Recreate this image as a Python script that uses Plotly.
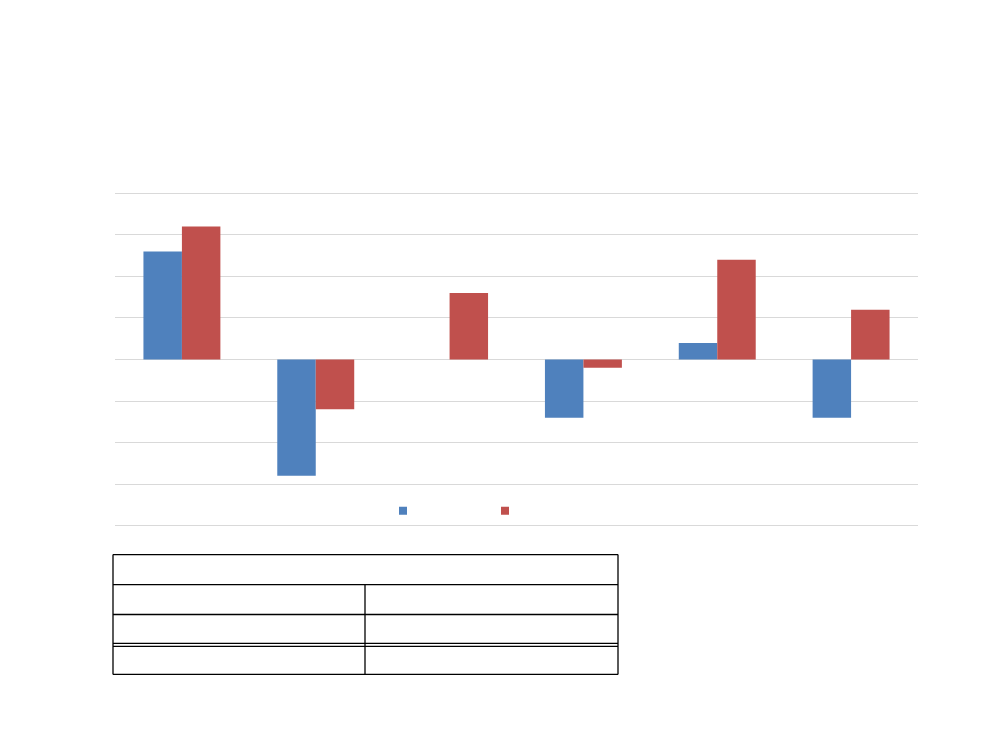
import plotly.graph_objects as go

# categories (labels are not shown in the picture)
categories = ["c1", "c2", "c3", "c4", "c5", "c6"]
series_a = [2.6, -2.8, 0.0, -1.4, 0.4, -1.4]
series_b = [3.2, -1.2, 1.6, -0.2, 2.4, 1.2]

BLUE = "#4F81BD"
RED = "#C0504D"

W, H = 1000, 750
OFF = 8  # page body margin added by write_html
YMAX = 4
PAD = 0.08  # keep edge gridlines from being clipped
unit = (526 - 193) / (2 * YMAX)
PL, PR = 115 - OFF, 918 - OFF
PT = 193 - OFF - PAD * unit
PB = 526 - OFF + PAD * unit


def px_x(px):
    return (px - OFF - PL) / (PR - PL)


def px_y(py):
    return (PB - (py - OFF)) / (PB - PT)


fig = go.Figure()

fig.add_trace(go.Bar(x=categories, y=series_a, marker=dict(color=BLUE, line=dict(width=0)),
                     showlegend=False))
fig.add_trace(go.Bar(x=categories, y=series_b, marker=dict(color=RED, line=dict(width=0)),
                     showlegend=False))

# legend entries (small squares, no text)
fig.add_trace(go.Scatter(x=[None], y=[None], mode="markers", name=" ",
                         marker=dict(symbol="square", size=8, color=BLUE)))
fig.add_trace(go.Scatter(x=[None], y=[None], mode="markers", name=" ",
                         marker=dict(symbol="square", size=8, color=RED)))

# empty table below the chart, drawn as border lines
black = dict(color="black", width=1.3)
tx0, tx1, tmid = 113, 618, 365
row_y = [555, 585, 615, 644, 647, 675]
shapes = []
shapes.append(dict(type="line", xref="paper", yref="paper", x0=px_x(tx0), x1=px_x(tx0),
                   y0=px_y(555), y1=px_y(675), line=black))
shapes.append(dict(type="line", xref="paper", yref="paper", x0=px_x(tx1), x1=px_x(tx1),
                   y0=px_y(555), y1=px_y(675), line=black))
shapes.append(dict(type="line", xref="paper", yref="paper", x0=px_x(tmid), x1=px_x(tmid),
                   y0=px_y(585), y1=px_y(675), line=black))
for yy in row_y:
    shapes.append(dict(type="line", xref="paper", yref="paper", x0=px_x(tx0), x1=px_x(tx1),
                       y0=px_y(yy), y1=px_y(yy), line=black))

fig.update_layout(
    width=W, height=H,
    margin=dict(l=PL, r=W - PR, t=PT, b=H - PB, autoexpand=False),
    paper_bgcolor="white", plot_bgcolor="white",
    barmode="group", bargap=0.425, bargroupgap=0,
    xaxis=dict(showticklabels=False, showgrid=False, zeroline=False, showline=False,
               ticks=""),
    yaxis=dict(range=[-YMAX - PAD, YMAX + PAD], tickvals=[-4, -3, -2, -1, 0, 1, 2, 3, 4],
               showticklabels=False, showgrid=True,
               gridcolor="#D9D9D9", gridwidth=1, zeroline=True, zerolinecolor="#D9D9D9",
               zerolinewidth=1, showline=False, ticks=""),
    showlegend=True,
    legend=dict(orientation="h", x=px_x(383), xanchor="left", y=px_y(511), yanchor="middle",
                bgcolor="rgba(0,0,0,0)", entrywidth=57, entrywidthmode="pixels",
                font=dict(size=10)),
    shapes=shapes,
)

fig.write_html("out.html")
